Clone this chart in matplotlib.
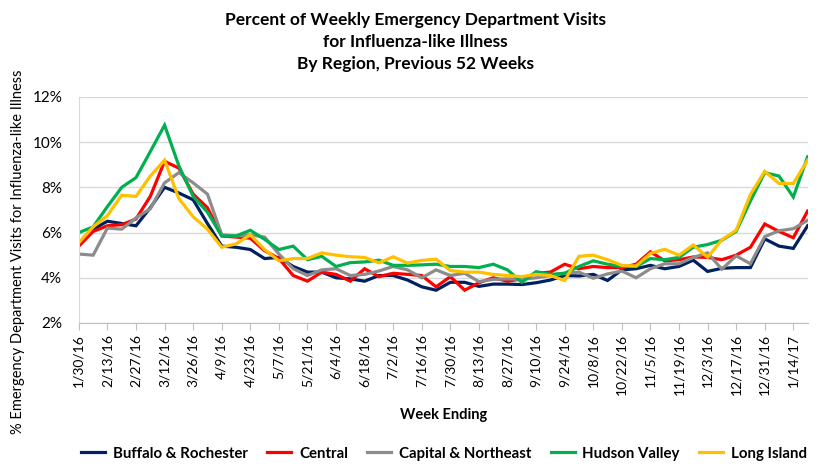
import numpy as np
import pandas as pd
import matplotlib
matplotlib.use('Agg')
import matplotlib.pyplot as plt

plt.rcParams['font.family'] = ['Lato', 'DejaVu Sans']

# week ending dates, 52 weeks
weeks = pd.date_range('2016-01-30', periods=52, freq='7D')
week_labels = ['%d/%d/%s' % (d.month, d.day, d.strftime('%y')) for d in weeks]

buffalo = [5.45, 6.15, 6.5, 6.4, 6.3, 7.1, 8.0, 7.75, 7.45, 6.4,
           5.4, 5.35, 5.25, 4.85, 4.9, 4.5, 4.25, 4.25, 4.0, 3.95,
           3.85, 4.1, 4.1, 3.9, 3.6, 3.45, 3.8, 3.8, 3.62, 3.72,
           3.72, 3.7, 3.78, 3.9, 4.1, 4.08, 4.15, 3.88, 4.35, 4.4,
           4.55, 4.4, 4.5, 4.78, 4.28, 4.42, 4.45, 4.45, 5.72, 5.4,
           5.3, 6.3]
central = [5.4, 6.05, 6.3, 6.35, 6.6, 7.6, 9.15, 8.85, 7.7, 7.1,
           5.85, 5.8, 5.75, 5.2, 4.85, 4.1, 3.85, 4.25, 4.15, 3.85,
           4.4, 4.05, 4.2, 4.15, 4.1, 3.6, 4.05, 3.45, 3.78, 4.0,
           3.85, 3.95, 4.2, 4.25, 4.6, 4.4, 4.5, 4.45, 4.45, 4.6,
           5.15, 4.75, 4.8, 4.92, 4.9, 4.8, 5.0, 5.35, 6.38, 6.05,
           5.77, 6.95]
capital = [5.05, 5.0, 6.2, 6.15, 6.65, 7.05, 8.2, 8.65, 8.2, 7.7,
           5.9, 5.85, 5.9, 5.8, 5.05, 4.4, 4.1, 4.35, 4.4, 4.1,
           4.15, 4.3, 4.5, 4.35, 4.0, 4.35, 4.1, 4.2, 3.83, 3.93,
           3.95, 3.93, 4.0, 4.1, 4.2, 4.25, 3.98, 4.17, 4.3, 4.0,
           4.4, 4.62, 4.62, 4.9, 5.1, 4.38, 4.97, 4.62, 5.82, 6.08,
           6.17, 6.54]
hudson = [6.0, 6.25, 7.15, 8.0, 8.43, 9.58, 10.75, 8.95, 7.6, 6.9,
          5.85, 5.85, 6.1, 5.7, 5.25, 5.4, 4.8, 4.95, 4.5, 4.67,
          4.7, 4.78, 4.55, 4.55, 4.57, 4.6, 4.5, 4.5, 4.45, 4.6,
          4.35, 3.8, 4.27, 4.15, 4.2, 4.5, 4.75, 4.6, 4.5, 4.5,
          4.85, 4.8, 4.9, 5.35, 5.47, 5.66, 6.05, 7.4, 8.65, 8.5,
          7.57, 9.35]
long_island = [5.55, 6.25, 6.75, 7.65, 7.6, 8.5, 9.2, 7.5, 6.7, 6.15,
               5.35, 5.5, 5.9, 5.25, 4.75, 4.85, 4.85, 5.1, 5.0, 4.93,
               4.9, 4.66, 4.93, 4.65, 4.77, 4.82, 4.32, 4.25, 4.25, 4.15,
               4.1, 4.05, 4.15, 4.1, 3.88, 4.95, 5.0, 4.8, 4.55, 4.52,
               5.08, 5.26, 5.0, 5.45, 4.91, 5.68, 6.1, 7.68, 8.71, 8.17,
               8.17, 9.2]

series = [
    ('Buffalo & Rochester', buffalo, '#002060'),
    ('Central', central, '#ff0000'),
    ('Capital & Northeast', capital, '#8c8c8c'),
    ('Hudson Valley', hudson, '#00b050'),
    ('Long Island', long_island, '#ffc000'),
]

fig = plt.figure(figsize=(8.3, 4.75), dpi=100)
ax = fig.add_axes([0.095, 0.32, 0.878, 0.476])

x = np.arange(len(weeks))
for name, vals, col in series:
    ax.plot(x, vals, color=col, lw=2.3, label=name, solid_joinstyle='miter')

ax.set_xlim(0, len(weeks) - 1)
ax.set_ylim(2, 12)
ax.set_yticks([2, 4, 6, 8, 10, 12])
ax.set_yticklabels(['%d%%' % v for v in [2, 4, 6, 8, 10, 12]], fontsize=11)
ax.set_xticks(x[::2])
ax.set_xticklabels(week_labels[::2], rotation=90, fontsize=10)
ax.grid(axis='y', color='#d9d9d9', lw=1)
ax.set_axisbelow(True)
for s in ['top', 'right']:
    ax.spines[s].set_visible(False)
ax.spines['left'].set_color('#d9d9d9')
ax.spines['bottom'].set_color('#bfbfbf')
ax.tick_params(axis='y', length=0, pad=12)
ax.tick_params(axis='x', length=5, color='#bfbfbf', pad=3)

ax.set_xlabel('Week Ending', fontsize=10.5, fontweight='bold', labelpad=9)
fig.text(0.022, 0.47, '% Emergency Department Visits for Influenza-like Illness',
         rotation=90, ha='center', va='center', fontsize=10.5)

fig.text(0.5, 0.975, 'Percent of Weekly Emergency Department Visits\nfor Influenza-like Illness\nBy Region, Previous 52 Weeks',
         ha='center', va='top', fontsize=12.5, fontweight='bold', linespacing=1.45)

fig.legend(loc='center', bbox_to_anchor=(0.535, 0.045), ncol=5, frameon=False,
           prop={'size': 10.8, 'weight': 'bold'}, handlelength=1.6,
           columnspacing=1.3, handletextpad=0.5)

plt.savefig('out.png', dpi=100)
